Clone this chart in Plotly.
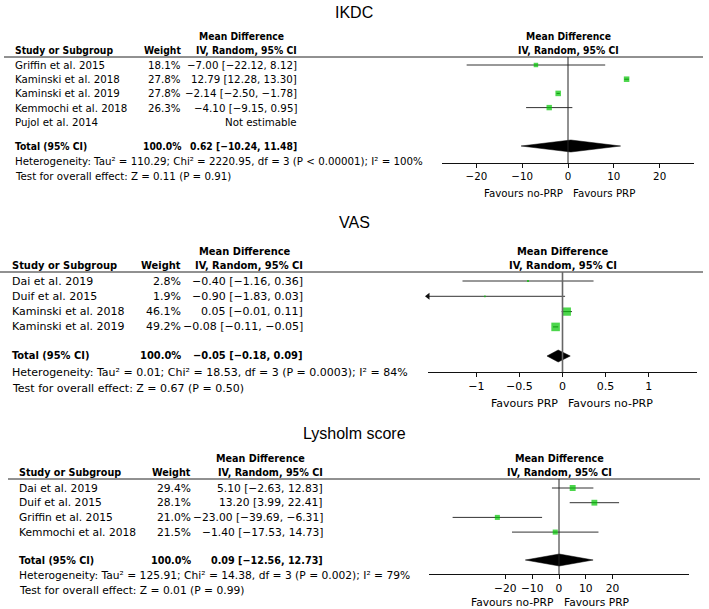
import math
import plotly.graph_objects as go

W, H = 709, 609

# ── data ──────────────────────────────────────────────────────────────────────
ikdc_studies = ["Griffin et al. 2015", "Kaminski et al. 2018", "Kaminski et al. 2019",
                "Kemmochi et al. 2018", "Pujol et al. 2014"]
ikdc_weight = [18.1, 27.8, 27.8, 26.3, None]
ikdc_md = [-7.00, 12.79, -2.14, -4.10, None]
ikdc_lo = [-22.12, 12.28, -2.50, -9.15, None]
ikdc_hi = [8.12, 13.30, -1.78, 0.95, None]
ikdc_total = [0.62, -10.24, 11.48]
ikdc_het = "Heterogeneity: Tau² = 110.29; Chi² = 2220.95, df = 3 (P < 0.00001); I² = 100%"
ikdc_test = "Test for overall effect: Z = 0.11 (P = 0.91)"
ikdc_ticks = [-20, -10, 0, 10, 20]
ikdc_favours = ["Favours no-PRP", "Favours PRP"]

vas_studies = ["Dai et al. 2019", "Duif et al. 2015", "Kaminski et al. 2018", "Kaminski et al. 2019"]
vas_weight = [2.8, 1.9, 46.1, 49.2]
vas_md = [-0.40, -0.90, 0.05, -0.08]
vas_lo = [-1.16, -1.83, -0.01, -0.11]
vas_hi = [0.36, 0.03, 0.11, -0.05]
vas_total = [-0.05, -0.18, 0.09]
vas_het = "Heterogeneity: Tau² = 0.01; Chi² = 18.53, df = 3 (P = 0.0003); I² = 84%"
vas_test = "Test for overall effect: Z = 0.67 (P = 0.50)"
vas_ticks = [-1, -0.5, 0, 0.5, 1]
vas_favours = ["Favours PRP", "Favours no-PRP"]

lys_studies = ["Dai et al. 2019", "Duif et al. 2015", "Griffin et al. 2015", "Kemmochi et al. 2018"]
lys_weight = [29.4, 28.1, 21.0, 21.5]
lys_md = [5.10, 13.20, -23.00, -1.40]
lys_lo = [-2.63, 3.99, -39.69, -17.53]
lys_hi = [12.83, 22.41, -6.31, 14.73]
lys_total = [0.09, -12.56, 12.73]
lys_het = "Heterogeneity: Tau² = 125.91; Chi² = 14.38, df = 3 (P = 0.002); I² = 79%"
lys_test = "Test for overall effect: Z = 0.01 (P = 0.99)"
lys_ticks = [-20, -10, 0, 10, 20]
lys_favours = ["Favours no-PRP", "Favours PRP"]

panels = [
    dict(title="IKDC", studies=ikdc_studies, weight=ikdc_weight, md=ikdc_md, lo=ikdc_lo,
         hi=ikdc_hi, total=ikdc_total, het=ikdc_het, test=ikdc_test, ticks=ikdc_ticks,
         favours=ikdc_favours),
    dict(title="VAS", studies=vas_studies, weight=vas_weight, md=vas_md, lo=vas_lo,
         hi=vas_hi, total=vas_total, het=vas_het, test=vas_test, ticks=vas_ticks,
         favours=vas_favours),
    dict(title="Lysholm score", studies=lys_studies, weight=lys_weight, md=lys_md, lo=lys_lo,
         hi=lys_hi, total=lys_total, het=lys_het, test=lys_test, ticks=lys_ticks,
         favours=lys_favours),
]

# ── layout (pixel positions per panel) ────────────────────────────────────────
styles = [
    dict(title_y=13, hl=57, row0=65, sp=14.2, total=146, axis=163, het=161, test=176,
         plot=(442, 694), xr=27.5, study_x=13, weight_r=183, ci_r=299, md_c=241,
         line=(4, 703), k=1.05, fs=10.25, zc="#222", zw=1, fav=30),
    dict(title_y=222, hl=272, row0=281, sp=15.3, total=356, axis=372, het=372, test=388,
         plot=(428, 697), xr=1.56, study_x=10, weight_r=183, ci_r=305, md_c=245,
         line=(0, 703), k=1.22, fs=11.0, zc="#666", zw=1.6, fav=31),
    dict(title_y=433, hl=479, row0=488, sp=14.7, total=560, axis=574, het=575, test=590,
         plot=(429, 689), xr=48.5, study_x=17, weight_r=193, ci_r=325, md_c=260,
         line=(8, 700), k=1.1, fs=10.7, zc="#222", zw=1, fav=28),
]

FONT = "DejaVu Sans"
BOLD_FONT = "DejaVu Sans Condensed"
GREEN = "#00c400"


def py(px):
    return 1 - px / H


def px_x(px):
    return px / W


def num(v):
    return f"{v:.2f}".replace("-", "−")


fig = go.Figure()
annotations = []
shapes = []
layout_axes = {}


def ann(text, x, y, xanchor="left", size=10.5, family=FONT, bold=False):
    if bold:
        text = f"<b>{text}</b>"
        family = BOLD_FONT if family == FONT else family
    annotations.append(dict(
        text=text, x=px_x(x), y=py(y), xref="paper", yref="paper",
        xanchor=xanchor, yanchor="middle", showarrow=False,
        font=dict(family=family, size=size, color="black"),
    ))


for i, (p, s) in enumerate(zip(panels, styles)):
    n = i + 1
    xa = "x" if n == 1 else f"x{n}"
    ya = "y" if n == 1 else f"y{n}"
    fs = s["fs"]

    def row(px):
        return (px - s["row0"]) / s["sp"]

    rows = list(range(len(p["studies"])))
    total_row = row(s["total"])

    # title
    ann(p["title"], 354, s["title_y"], "center", 16, "Liberation Sans")

    # left column headers
    ann("Study or Subgroup", s["study_x"], s["hl"] - 7, "left", fs, bold=True)
    ann("Weight", s["weight_r"], s["hl"] - 7, "right", fs, bold=True)
    ann("Mean Difference", s["md_c"], s["hl"] - 21, "center", fs, bold=True)
    ann("IV, Random, 95% CI", s["ci_r"], s["hl"] - 7, "right", fs, bold=True)
    pc = (s["plot"][0] + s["plot"][1]) / 2
    ann("Mean Difference", pc, s["hl"] - 21, "center", fs, bold=True)
    ann("IV, Random, 95% CI", pc, s["hl"] - 7, "center", fs, bold=True)

    # study rows
    for r, name, w, m, lo, hi in zip(rows, p["studies"], p["weight"], p["md"], p["lo"], p["hi"]):
        ypx = s["row0"] + r * s["sp"]
        ann(name, s["study_x"], ypx, "left", fs)
        if w is not None:
            ann(f"{w:.1f}%", s["weight_r"], ypx, "right", fs)
            ann(f"{num(m)} [{num(lo)}, {num(hi)}]", s["ci_r"], ypx, "right", fs)
        else:
            ann("Not estimable", s["ci_r"], ypx, "right", fs)

    # total + footnotes
    t_est, t_lo, t_hi = p["total"]
    ann("Total (95% CI)", s["study_x"], s["total"], "left", fs, bold=True)
    ann("100.0%", s["weight_r"], s["total"], "right", fs, bold=True)
    ann(f"{num(t_est)} [{num(t_lo)}, {num(t_hi)}]", s["ci_r"], s["total"], "right", fs, bold=True)
    ann(p["het"], s["study_x"], s["het"], "left", fs)
    ann(p["test"], s["study_x"], s["test"], "left", fs)

    # header rule
    shapes.append(dict(type="line", xref="paper", yref="paper",
                       x0=px_x(s["line"][0]), x1=px_x(s["line"][1]),
                       y0=py(s["hl"]), y1=py(s["hl"]),
                       line=dict(color="#222", width=1)))

    # CI lines (clipped to axis range)
    xr = s["xr"]
    cx, cy = [], []
    arrows_x, arrows_y = [], []
    for r, lo, hi in zip(rows, p["lo"], p["hi"]):
        if lo is None:
            continue
        cx += [max(lo, -xr), min(hi, xr), None]
        cy += [r, r, None]
        if lo < -xr:
            arrows_x.append(-xr)
            arrows_y.append(r)
    fig.add_trace(go.Scatter(x=cx, y=cy, mode="lines", xaxis=xa, yaxis=ya,
                             line=dict(color="#333", width=1), hoverinfo="skip",
                             showlegend=False))
    if arrows_x:
        fig.add_trace(go.Scatter(x=arrows_x, y=arrows_y, mode="markers", xaxis=xa, yaxis=ya,
                                 marker=dict(symbol="triangle-left", size=6, color="#111"),
                                 cliponaxis=False, showlegend=False, hoverinfo="skip"))

    # squares
    sx, sy, ss = [], [], []
    for r, w, m in zip(rows, p["weight"], p["md"]):
        if w is None:
            continue
        sx.append(m)
        sy.append(r)
        ss.append(s["k"] * math.sqrt(w))
    fig.add_trace(go.Scatter(x=sx, y=sy, mode="markers", xaxis=xa, yaxis=ya,
                             marker=dict(symbol="square", size=ss, color=GREEN,
                                         line=dict(width=0)),
                             cliponaxis=False, showlegend=False))

    # diamond
    h = 6 / s["sp"]
    fig.add_trace(go.Scatter(x=[t_lo, t_est, t_hi, t_est, t_lo],
                             y=[total_row, total_row - h, total_row, total_row + h, total_row],
                             mode="lines", fill="toself", fillcolor="black",
                             line=dict(color="black", width=0.5), xaxis=xa, yaxis=ya,
                             showlegend=False, hoverinfo="skip"))

    # zero line
    shapes.append(dict(type="line", xref=xa, yref=f"{ya} domain", x0=0, x1=0, y0=0, y1=1,
                       line=dict(color=s["zc"], width=s["zw"])))

    # favours labels
    for label, anchor, shift in [(p["favours"][0], "right", -3), (p["favours"][1], "left", 3)]:
        annotations.append(dict(text=label, x=0, y=py(s["axis"] + s["fav"]), xref=xa,
                                yref="paper", xanchor=anchor, yanchor="middle", xshift=shift,
                                showarrow=False,
                                font=dict(family=FONT, size=fs, color="black")))

    xkey = "xaxis" if n == 1 else f"xaxis{n}"
    ykey = "yaxis" if n == 1 else f"yaxis{n}"
    layout_axes[xkey] = dict(
        domain=[px_x(s["plot"][0]), px_x(s["plot"][1])], range=[-xr, xr],
        anchor="free", position=py(s["axis"]),
        tickvals=p["ticks"], showline=True, linecolor="#111", linewidth=1,
        ticks="outside", ticklen=4, tickcolor="#111", showgrid=False, zeroline=False,
        tickfont=dict(family=FONT, size=fs, color="black"), fixedrange=True,
    )
    layout_axes[ykey] = dict(
        domain=[py(s["axis"]), py(s["hl"])], range=[row(s["axis"]), row(s["hl"])],
        visible=False, fixedrange=True,
    )

fig.update_layout(
    width=W, height=H, margin=dict(l=0, r=0, t=0, b=0),
    paper_bgcolor="white", plot_bgcolor="white",
    annotations=annotations, shapes=shapes, showlegend=False,
    **layout_axes,
)

# the page body has a default 8px margin; drop it so the figure fills the window
fig.write_html("out.html", config={"displayModeBar": False},
               post_script="document.body.style.margin = '0';")
